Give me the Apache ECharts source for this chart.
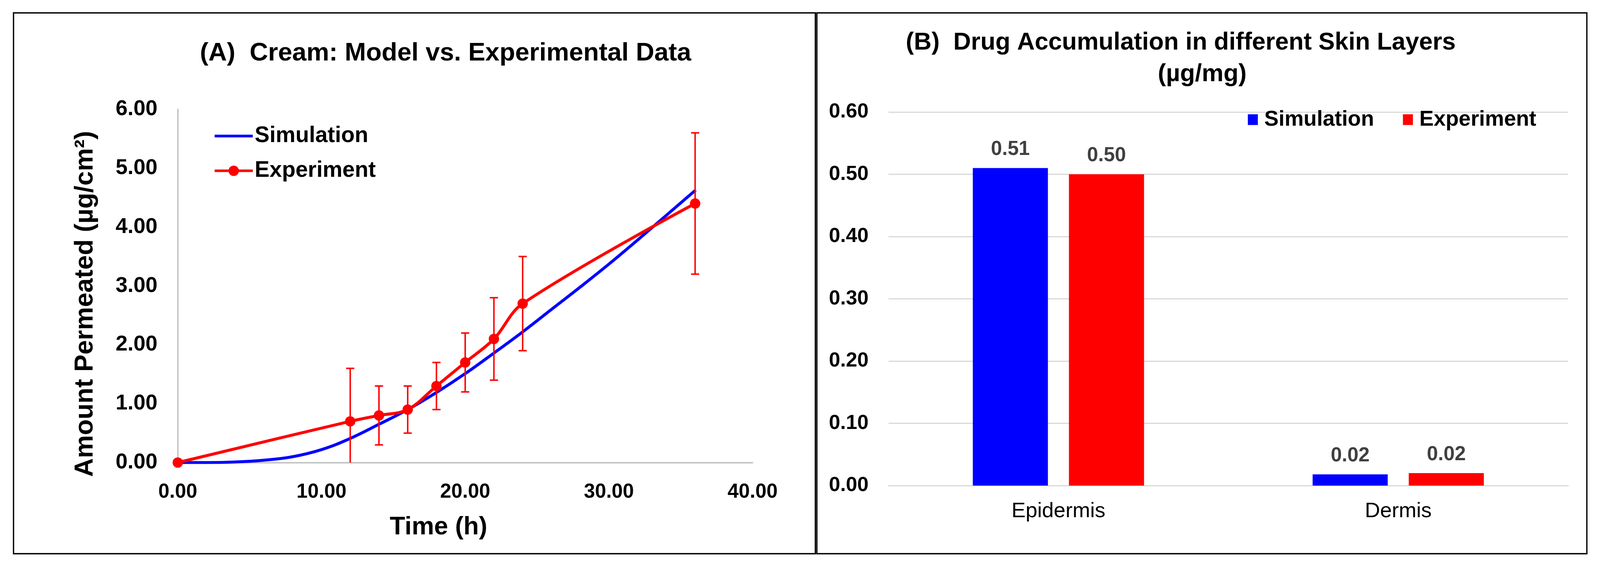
<!DOCTYPE html>
<html><head><meta charset="utf-8">
<script src="https://cdn.jsdelivr.net/npm/echarts@6/dist/echarts.min.js"></script>
<style>html,body{margin:0;padding:0;background:#fff;overflow:hidden}#c{width:100vw;height:100vh}</style>
</head><body><div id="c"></div>
<script>
const FONT = "'Liberation Sans', Arial, Helvetica, sans-serif";

// ---- Panel A: cream permeation ----
const simTime   = [0, 2, 4, 6, 8, 10, 12, 14, 16, 18, 20, 22, 24, 26, 28, 30, 32, 34, 36];
const simAmount = [0, 0.00, 0.01, 0.04, 0.10, 0.22, 0.41, 0.65, 0.90, 1.19, 1.51, 1.86, 2.22, 2.60, 2.98, 3.37, 3.78, 4.20, 4.62];
const expTime   = [0, 12, 14, 16, 18, 20, 22, 24, 36];
const expAmount = [0, 0.7, 0.8, 0.9, 1.3, 1.7, 2.1, 2.7, 4.4];
const expError  = [0, 0.9, 0.5, 0.4, 0.4, 0.5, 0.7, 0.8, 1.2];

// ---- Panel B: skin layers ----
const layers    = ['Epidermis', 'Dermis'];
const simAccum  = [0.51, 0.018];
const expAccum  = [0.50, 0.020];

const BLUE = '#0000ff', RED = '#ff0000';

// layout is designed on a 4320x1450 canvas and scaled to the actual viewport
const W = window.innerWidth || 4320, H = window.innerHeight || 1450;
const sx = W / 4320, sy = H / 1450, sf = Math.min(sx, sy);
const X = v => v * sx, Y = v => v * sy, F = v => v * sf;

const simData = simTime.map((t, i) => [t, simAmount[i]]);
const expData = expTime.map((t, i) => [t, expAmount[i]]);
const errData = expTime.map((t, i) => [t, expAmount[i], expError[i]]);

const el = document.getElementById('c');
el.style.width = W + 'px';
el.style.height = H + 'px';
const chart = echarts.init(el, null, {renderer: 'canvas', width: W, height: H});

chart.setOption({
  backgroundColor: '#ffffff',
  animation: false,
  textStyle: {fontFamily: FONT},
  title: [
    {text: '(A)  Cream: Model vs. Experimental Data', left: X(1203), top: Y(104), textAlign: 'center', padding: 0,
     textStyle: {fontFamily: FONT, fontSize: F(69), fontWeight: 'bold', color: '#000'}},
    {text: '(B)  Drug Accumulation in different Skin Layers', left: X(3188), top: Y(78), textAlign: 'center', padding: 0,
     textStyle: {fontFamily: FONT, fontSize: F(66), fontWeight: 'bold', color: '#000'}},
    {text: '(µg/mg)', left: X(3246), top: Y(159), textAlign: 'center', padding: 0,
     textStyle: {fontFamily: FONT, fontSize: F(66), fontWeight: 'bold', color: '#000'}}
  ],
  legend: [
    {
      data: [
        {name: 'Simulation', icon: 'path://M0 0H100V7H0Z'},
        {name: 'Experiment'}
      ],
      orient: 'vertical', left: X(576), top: Y(320), padding: 0,
      itemWidth: F(103), itemHeight: F(35), itemGap: Y(32), selectedMode: false,
      lineStyle: {width: F(7)},
      textStyle: {fontFamily: FONT, fontSize: F(60), fontWeight: 'bold', color: '#000'}
    },
    {
      data: [
        {name: 'Simulation', icon: 'rect', itemStyle: {color: BLUE}},
        {name: 'Experiment', icon: 'rect', itemStyle: {color: RED}}
      ],
      orient: 'horizontal', right: X(172), top: Y(279), padding: 0,
      itemWidth: F(27), itemHeight: F(29), itemGap: X(78), selectedMode: false,
      textStyle: {fontFamily: FONT, fontSize: F(58), fontWeight: 'bold', color: '#000', padding: [0, 0, 0, F(12)]}
    }
  ],
  grid: [
    {left: X(480), right: X(4320 - 2032), top: Y(280), bottom: Y(1450 - 1185), containLabel: false},
    {left: X(2399), right: X(4320 - 4234), top: Y(287), bottom: Y(1450 - 1244), containLabel: false}
  ],
  xAxis: [
    {
      type: 'value', gridIndex: 0, min: 0, max: 40, interval: 10,
      name: 'Time (h)', nameLocation: 'middle', nameGap: Y(134),
      nameTextStyle: {fontFamily: FONT, fontSize: F(68), fontWeight: 'bold', color: '#000', padding: [0, X(144), 0, 0]},
      axisLine: {show: true, onZero: true, lineStyle: {color: '#bfbfbf', width: F(3.5)}},
      axisTick: {show: false}, splitLine: {show: false},
      axisLabel: {margin: Y(50), fontFamily: FONT, fontSize: F(54), fontWeight: 'bold', color: '#000',
                  formatter: v => v.toFixed(2)}
    },
    {
      type: 'category', gridIndex: 1, data: layers,
      axisLine: {show: true, lineStyle: {color: '#d9d9d9', width: F(3)}},
      axisTick: {show: false},
      axisLabel: {margin: Y(39), fontFamily: FONT, fontSize: F(57), color: '#000'}
    }
  ],
  yAxis: [
    {
      type: 'value', gridIndex: 0, min: 0, max: 6, interval: 1,
      name: 'Amount Permeated (µg/cm²)', nameLocation: 'middle', nameGap: X(215), nameRotate: 90,
      nameTextStyle: {fontFamily: FONT, fontSize: F(70), fontWeight: 'bold', color: '#000', padding: [0, Y(92), 0, 0]},
      axisLine: {show: true, lineStyle: {color: '#bfbfbf', width: F(3.5)}},
      axisTick: {show: false}, splitLine: {show: false},
      axisLabel: {margin: X(55), fontFamily: FONT, fontSize: F(58), fontWeight: 'bold', color: '#000',
                  formatter: v => v.toFixed(2)}
    },
    {
      type: 'value', gridIndex: 1, min: 0, max: 0.6, interval: 0.1,
      axisLine: {show: false}, axisTick: {show: false},
      splitLine: {show: true, lineStyle: {color: '#d9d9d9', width: F(3)}},
      axisLabel: {margin: X(54), fontFamily: FONT, fontSize: F(55), fontWeight: 'bold', color: '#000',
                  formatter: v => v.toFixed(2)}
    }
  ],
  series: [
    {
      name: 'Simulation', type: 'line', xAxisIndex: 0, yAxisIndex: 0, data: simData,
      smooth: 0.4, symbol: 'none', lineStyle: {color: BLUE, width: F(8)}, itemStyle: {color: BLUE}, z: 3
    },
    {
      name: 'Experiment', type: 'line', xAxisIndex: 0, yAxisIndex: 0, data: expData,
      smooth: 0.35, symbol: 'circle', symbolSize: F(28), showAllSymbol: true,
      lineStyle: {color: RED, width: F(8)}, itemStyle: {color: RED}, z: 4
    },
    {
      name: 'Experiment error', type: 'custom', xAxisIndex: 0, yAxisIndex: 0, data: errData, z: 5,
      renderItem: function (params, api) {
        const x = api.value(0), y = api.value(1), e = api.value(2);
        if (!e) return null;
        const lo = Math.max(0, y - e), hi = y + e;
        const pT = api.coord([x, hi]), pB = api.coord([x, lo]);
        const hw = F(11), st = {stroke: RED, lineWidth: F(4)};
        const kids = [
          {type: 'line', shape: {x1: pT[0], y1: pT[1], x2: pB[0], y2: pB[1]}, style: st},
          {type: 'line', shape: {x1: pT[0] - hw, y1: pT[1], x2: pT[0] + hw, y2: pT[1]}, style: st}
        ];
        if (y - e >= 0) kids.push({type: 'line', shape: {x1: pB[0] - hw, y1: pB[1], x2: pB[0] + hw, y2: pB[1]}, style: st});
        return {type: 'group', children: kids};
      }
    },
    {
      name: 'Simulation', type: 'bar', xAxisIndex: 1, yAxisIndex: 1, data: simAccum,
      barWidth: '22.1%', barGap: '28%', itemStyle: {color: BLUE},
      label: {show: true, position: 'top', distance: Y(22), fontFamily: FONT, fontSize: F(54), fontWeight: 'bold',
              color: '#404040', formatter: p => p.value.toFixed(2)}
    },
    {
      name: 'Experiment', type: 'bar', xAxisIndex: 1, yAxisIndex: 1, data: expAccum,
      barWidth: '22.1%', barGap: '28%', itemStyle: {color: RED},
      label: {show: true, position: 'top', distance: Y(22), fontFamily: FONT, fontSize: F(54), fontWeight: 'bold',
              color: '#404040', formatter: p => p.value.toFixed(2)}
    }
  ],
  graphic: [
    {type: 'rect', shape: {x: X(36.5), y: Y(33), width: X(2201.5 - 36.5), height: Y(1418.5 - 33)},
     style: {fill: 'none', stroke: '#000', lineWidth: F(3.5)}, z: 100},
    {type: 'rect', shape: {x: X(2205.5), y: Y(33), width: X(4284.5 - 2205.5), height: Y(1418.5 - 33)},
     style: {fill: 'none', stroke: '#000', lineWidth: F(3.5)}, z: 100}
  ]
});
</script></body></html>
